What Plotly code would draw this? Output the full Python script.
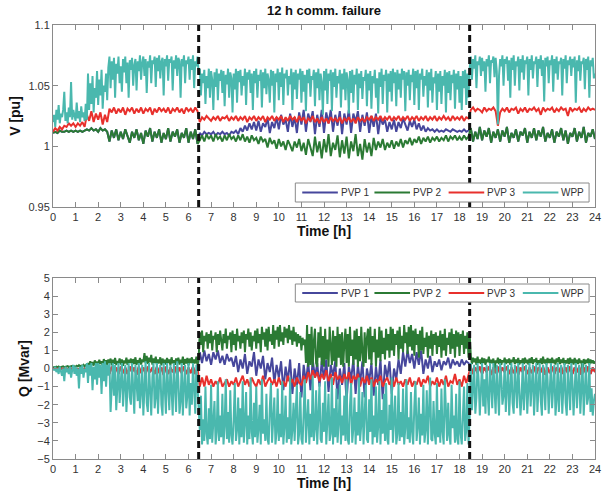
import numpy as np
import plotly.graph_objects as go

# Time axes: coarse 0.1 h grid (241 samples) and fine 0.05 h grid (481 samples)
time_h = np.round(np.arange(0, 24.001, 0.1), 3)
time_f = np.round(np.arange(0, 24.001, 0.05), 3)
fail_start, fail_end = 6.45, 18.45
x_ticks = list(range(0, 25))
v_ticks = [0.95, 1.0, 1.05, 1.1]
v_tick_labels = ["0.95", "1", "1.05", "1.1"]
q_ticks = list(range(-5, 6))
names = ["PVP 1", "PVP 2", "PVP 3", "WPP"]
colors = ["#46479c", "#2b7a34", "#e8302c", "#4ab8ae"]

# ---------------- Voltage [pu] ----------------
# WPP voltage, 0.05 h grid
wpp_v = [
 1.020,1.026,1.016,1.030,1.022,1.034,1.019,1.027,1.024,1.030,1.045,1.021,1.028,1.019,1.032,1.024,1.053,1.022,1.030,1.025,
 1.021,1.036,1.023,1.029,1.020,1.033,1.024,1.028,1.021,1.035,1.022,1.060,1.030,1.052,1.035,1.058,1.028,1.048,1.040,1.062,
 1.034,1.055,1.042,1.063,1.031,1.050,1.045,1.060,1.038,1.065,1.074,1.048,1.070,1.055,1.073,1.040,1.068,1.060,1.074,1.052,
 1.066,1.045,1.072,1.061,1.074,1.052,1.069,1.040,1.071,1.063,1.073,1.050,1.067,1.072,1.046,1.070,1.062,1.075,1.055,1.069,
 1.074,1.058,1.072,1.044,1.070,1.065,1.075,1.052,1.071,1.068,1.074,1.049,1.073,1.062,1.075,1.056,1.070,1.073,1.042,1.072,
 1.066,1.075,1.054,1.072,1.069,1.074,1.046,1.071,1.064,1.075,1.058,1.073,1.070,1.040,1.072,1.066,1.075,1.052,1.071,1.068,
 1.074,1.055,1.072,1.063,1.075,1.048,1.070,1.066,1.074,1.060,1.064,1.042,1.060,1.052,1.063,1.035,1.058,1.048,1.064,1.040,
 1.062,1.055,1.030,1.061,1.049,1.064,1.038,1.060,1.054,1.063,1.044,1.062,1.033,1.059,1.051,1.064,1.040,1.061,1.056,1.028,
 1.060,1.047,1.064,1.036,1.062,1.053,1.063,1.042,1.058,1.050,1.064,1.034,1.061,1.055,1.063,1.044,1.060,1.030,1.062,1.052,
 1.064,1.040,1.059,1.054,1.063,1.032,1.061,1.048,1.064,1.043,1.060,1.055,1.036,1.063,1.050,1.062,1.028,1.060,1.053,1.064,
 1.038,1.061,1.049,1.065,1.034,1.060,1.056,1.063,1.042,1.058,1.051,1.064,1.030,1.061,1.047,1.063,1.039,1.060,1.055,1.064,
 1.036,1.062,1.045,1.059,1.029,1.063,1.052,1.064,1.041,1.058,1.055,1.063,1.033,1.061,1.048,1.064,1.038,1.060,1.053,1.026,
 1.062,1.046,1.064,1.035,1.060,1.054,1.063,1.029,1.061,1.049,1.064,1.040,1.058,1.052,1.063,1.032,1.060,1.047,1.064,1.038,
 1.061,1.055,1.027,1.062,1.044,1.063,1.036,1.059,1.051,1.064,1.030,1.060,1.048,1.062,1.039,1.057,1.054,1.063,1.033,1.060,
 1.046,1.062,1.031,1.058,1.052,1.063,1.040,1.056,1.027,1.061,1.049,1.064,1.035,1.059,1.054,1.063,1.028,1.060,1.045,1.062,
 1.037,1.064,1.052,1.061,1.033,1.063,1.047,1.060,1.040,1.064,1.055,1.062,1.029,1.061,1.050,1.063,1.038,1.059,1.053,1.064,
 1.034,1.062,1.048,1.063,1.030,1.060,1.055,1.064,1.041,1.058,1.050,1.063,1.032,1.061,1.046,1.064,1.036,1.057,1.052,1.062,
 1.030,1.060,1.045,1.062,1.035,1.058,1.050,1.063,1.028,1.061,1.044,1.062,1.038,1.059,1.052,1.063,1.031,1.060,1.047,1.062,
 1.036,1.058,1.030,1.062,1.048,1.063,1.034,1.060,1.040,1.064,1.074,1.055,1.072,1.064,1.075,1.048,1.070,1.067,1.074,1.058,
 1.073,1.062,1.070,1.045,1.072,1.066,1.075,1.052,1.071,1.069,1.074,1.057,1.073,1.062,1.018,1.058,1.072,1.066,1.075,1.050,
 1.072,1.068,1.074,1.054,1.071,1.040,1.073,1.063,1.075,1.050,1.070,1.066,1.074,1.046,1.072,1.061,1.075,1.055,1.071,1.068,
 1.074,1.042,1.072,1.063,1.075,1.056,1.070,1.068,1.074,1.049,1.072,1.064,1.075,1.058,1.071,1.037,1.073,1.066,1.074,1.052,
 1.071,1.067,1.075,1.045,1.072,1.060,1.074,1.055,1.070,1.068,1.073,1.042,1.072,1.064,1.075,1.052,1.071,1.067,1.074,1.058,
 1.072,1.065,1.074,1.036,1.071,1.062,1.075,1.054,1.070,1.068,1.073,1.047,1.072,1.063,1.074,1.040,1.071,1.066,1.073,1.056,
 1.060]

# PVP 3 voltage, 0.1 h grid
pvp3_v = [
 1.012, 1.015, 1.013, 1.016, 1.014, 1.017, 1.016, 1.019, 1.017, 1.019,
 1.016, 1.019, 1.017, 1.020, 1.016, 1.026, 1.021, 1.029, 1.020, 1.027,
 1.022, 1.028, 1.018, 1.026, 1.020, 1.031, 1.028, 1.032, 1.027, 1.031,
 1.028, 1.032, 1.026, 1.031, 1.029, 1.032, 1.027, 1.031, 1.028, 1.032,
 1.027, 1.031, 1.029, 1.032, 1.026, 1.031, 1.028, 1.032, 1.029, 1.031,
 1.028, 1.032, 1.027, 1.031, 1.029, 1.032, 1.028, 1.031, 1.027, 1.032,
 1.029, 1.031, 1.028, 1.032, 1.029, 1.020, 1.024, 1.022, 1.025, 1.023,
 1.021, 1.024, 1.022, 1.025, 1.021, 1.024, 1.023, 1.025, 1.021, 1.024,
 1.022, 1.025, 1.021, 1.024, 1.022, 1.025, 1.020, 1.024, 1.022, 1.025,
 1.021, 1.024, 1.022, 1.025, 1.020, 1.024, 1.022, 1.025, 1.021, 1.024,
 1.022, 1.025, 1.020, 1.024, 1.021, 1.025, 1.022, 1.024, 1.020, 1.025,
 1.021, 1.024, 1.019, 1.023, 1.021, 1.025, 1.020, 1.023, 1.019, 1.024,
 1.020, 1.023, 1.019, 1.024, 1.021, 1.023, 1.020, 1.024, 1.019, 1.023,
 1.021, 1.024, 1.020, 1.023, 1.019, 1.024, 1.021, 1.023, 1.020, 1.024,
 1.022, 1.025, 1.021, 1.024, 1.022, 1.025, 1.021, 1.024, 1.022, 1.025,
 1.021, 1.024, 1.022, 1.025, 1.021, 1.024, 1.022, 1.025, 1.021, 1.024,
 1.022, 1.025, 1.021, 1.024, 1.022, 1.025, 1.021, 1.024, 1.022, 1.025,
 1.021, 1.024, 1.022, 1.025, 1.022, 1.024, 1.021, 1.025, 1.022, 1.024,
 1.022, 1.025, 1.021, 1.024, 1.023, 1.030, 1.032, 1.029, 1.031, 1.030,
 1.028, 1.032, 1.029, 1.031, 1.030, 1.032, 1.029, 1.017, 1.028, 1.031,
 1.029, 1.032, 1.028, 1.031, 1.030, 1.032, 1.027, 1.031, 1.029, 1.032,
 1.028, 1.031, 1.030, 1.032, 1.029, 1.031, 1.026, 1.032, 1.029, 1.031,
 1.030, 1.032, 1.028, 1.031, 1.029, 1.032, 1.030, 1.031, 1.025, 1.032,
 1.029, 1.031, 1.030, 1.032, 1.028, 1.031, 1.029, 1.032, 1.030, 1.031,
 1.030]

# PVP 2 voltage, 0.1 h grid
pvp2_v = [
 1.011, 1.012, 1.011, 1.013, 1.012, 1.012, 1.013, 1.012, 1.013, 1.012,
 1.013, 1.012, 1.013, 1.012, 1.013, 1.014, 1.013, 1.015, 1.013, 1.014,
 1.012, 1.015, 1.013, 1.014, 1.012, 1.004, 1.013, 1.007, 1.014, 1.005,
 1.012, 1.006, 1.014, 1.009, 1.003, 1.012, 1.007, 1.014, 1.005, 1.011,
 1.002, 1.013, 1.008, 1.015, 1.004, 1.012, 1.007, 1.014, 1.003, 1.011,
 1.006, 1.015, 1.004, 1.012, 1.008, 1.014, 1.003, 1.011, 1.007, 1.015,
 1.003, 1.012, 1.006, 1.014, 1.002, 1.005, 1.009, 1.004, 1.010, 1.006,
 1.009, 1.004, 1.010, 1.006, 1.008, 1.004, 1.009, 1.005, 1.010, 1.006,
 1.008, 1.004, 1.009, 1.005, 1.010, 1.004, 1.008, 1.003, 1.009, 1.005,
 1.007, 1.002, 1.008, 1.004, 1.006, 0.999, 1.007, 1.002, 1.005, 0.998,
 1.006, 1.000, 1.004, 0.997, 1.005, 1.001, 0.996, 1.004, 0.999, 1.006,
 0.996, 1.003, 0.993, 1.006, 0.998, 0.992, 1.008, 0.995, 1.004, 0.990,
 1.006, 0.995, 1.010, 0.992, 1.003, 0.997, 1.009, 0.991, 1.005, 0.994,
 1.008, 0.990, 1.004, 0.996, 1.010, 0.992, 1.002, 0.989, 1.006, 0.995,
 1.003, 0.992, 1.007, 0.997, 1.004, 0.999, 1.006, 0.997, 1.003, 0.999,
 1.005, 0.998, 1.004, 1.000, 1.006, 0.999, 1.005, 1.002, 1.007, 1.001,
 1.006, 1.003, 1.008, 1.002, 1.007, 1.004, 1.008, 1.003, 1.007, 1.005,
 1.008, 1.004, 1.007, 1.005, 1.009, 1.004, 1.008, 1.006, 1.009, 1.005,
 1.008, 1.005, 1.009, 1.006, 1.008, 1.015, 1.004, 1.012, 1.006, 1.016,
 1.005, 1.013, 1.008, 1.015, 1.003, 1.012, 1.007, 1.014, 1.004, 1.013,
 1.008, 1.016, 1.003, 1.011, 1.007, 1.014, 1.004, 1.012, 1.009, 1.015,
 1.003, 1.012, 1.007, 1.015, 1.005, 1.013, 1.008, 1.016, 1.004, 1.011,
 1.007, 1.014, 1.003, 1.012, 1.008, 1.015, 1.005, 1.013, 1.002, 1.011,
 1.008, 1.015, 1.004, 1.012, 1.007, 1.016, 1.003, 1.011, 1.008, 1.014,
 1.006]

# PVP 1 voltage during the failure window (6.5 h .. 18.4 h, 0.1 h grid);
# outside it follows PVP 2 (hidden beneath it in the reference)
pvp1_v_fail = [
 1.011, 1.009, 1.012, 1.010, 1.011,
 1.010, 1.012, 1.009, 1.011, 1.010, 1.012, 1.010, 1.011, 1.009, 1.012,
 1.011, 1.013, 1.010, 1.015, 1.012, 1.017, 1.013, 1.019, 1.014, 1.020,
 1.013, 1.021, 1.012, 1.019, 1.016, 1.023, 1.011, 1.020, 1.015, 1.024,
 1.014, 1.026, 1.018, 1.022, 1.012, 1.027, 1.016, 1.024, 1.011, 1.028,
 1.018, 1.030, 1.012, 1.027, 1.020, 1.029, 1.010, 1.026, 1.016, 1.030,
 1.011, 1.028, 1.019, 1.030, 1.012, 1.026, 1.017, 1.029, 1.010, 1.027,
 1.018, 1.030, 1.011, 1.027, 1.020, 1.029, 1.012, 1.026, 1.017, 1.028,
 1.011, 1.025, 1.016, 1.027, 1.010, 1.024, 1.018, 1.022, 1.012, 1.020,
 1.014, 1.022, 1.012, 1.020, 1.015, 1.023, 1.018, 1.013, 1.021, 1.016,
 1.022, 1.014, 1.019, 1.013, 1.017, 1.012, 1.015, 1.013, 1.014, 1.012,
 1.014, 1.012, 1.013, 1.012, 1.014, 1.013, 1.012, 1.014, 1.013, 1.012,
 1.013, 1.012, 1.014, 1.012, 1.013]

# ---------------- Reactive power [Mvar] ----------------
# WPP reactive power, 0.05 h grid
wpp_q = [
 0.0,-0.1,0.1,-0.2,0.0,-0.3,0.1,-0.1,-0.4,0.0,-0.7,0.1,-0.2,0.0,-0.3,0.1,-0.5,-0.1,0.2,-0.3,
 0.1,-0.4,0.0,-1.1,0.1,-0.3,0.2,-0.5,0.0,-0.2,0.3,-0.8,0.2,-0.4,0.3,-1.2,0.1,-0.6,0.3,-0.9,
 0.3,-0.5,0.2,-1.4,0.3,-0.7,0.4,-1.0,0.2,-0.4,0.3,-2.4,-0.6,0.3,-1.5,0.2,-2.3,-0.8,0.3,-1.9,
 -0.4,0.3,-2.1,-1.0,0.2,-2.4,-0.6,0.3,-1.6,-2.0,0.3,-1.1,-2.5,0.2,-0.7,-1.8,0.3,-2.2,-1.3,0.2,
 -2.6,-0.9,0.4,-1.9,-2.4,0.3,-1.2,-2.6,-0.5,0.3,-2.2,-1.6,0.3,-2.5,-0.8,0.2,-2.0,-2.6,0.3,-1.4,
 -2.5,0.3,-0.9,-2.3,0.2,-1.7,-2.6,0.3,-1.1,-2.4,0.4,-0.6,-2.5,-1.8,0.3,-2.6,-1.0,0.2,-2.2,-1.5,
 0.3,-2.6,-0.8,-2.0,0.3,-1.4,-2.5,0.2,-1.0,-2.3,-3.4,-1.5,-4.2,-2.8,-4.0,-1.0,-3.6,-4.2,-2.2,-3.9,
 -0.9,-4.1,-3.0,-1.8,-4.2,-3.5,-0.7,-4.0,-2.6,-3.8,-1.4,-4.2,-3.2,-0.6,-3.9,-2.4,-4.1,-1.2,-3.7,-4.2,
 -2.8,-0.8,-4.0,-3.4,-1.6,-4.2,-2.2,-3.8,-0.7,-4.1,-3.0,-1.3,-4.2,-2.6,-3.9,-0.5,-3.5,-4.2,-1.9,-3.8,
 -1.0,-4.1,-3.3,-2.0,-4.2,-0.6,-3.6,-2.8,-4.0,-1.4,-3.9,-4.2,-2.2,-0.8,-4.1,-3.0,-1.6,-4.2,-3.5,-1.1,
 -4.0,-2.5,-3.8,-0.7,-4.2,-3.2,-1.5,-4.1,-2.7,-3.9,-0.5,-4.2,-3.4,-1.9,-4.0,-2.3,-0.9,-4.2,-3.6,-1.3,
 -3.9,-4.2,-2.0,-0.6,-4.1,-3.1,-1.7,-4.2,-2.5,-3.8,-0.4,-4.0,-3.3,-1.2,-4.2,-2.7,-0.8,-3.9,-4.1,-1.9,
 -3.5,-0.7,-4.2,-2.9,-1.4,-4.0,-3.6,-0.5,-4.2,-2.2,-3.8,-1.1,-4.1,-3.0,-0.9,-4.2,-2.6,-3.7,-1.5,-4.0,
 -0.6,-3.9,-4.2,-2.1,-0.8,-4.1,-3.3,-1.6,-4.2,-2.4,-3.7,-0.5,-4.0,-3.1,-1.3,-4.2,-2.8,-0.9,-3.9,-4.1,
 -1.7,-3.5,-0.6,-4.2,-2.6,-3.8,-1.0,-4.1,-3.2,-0.7,-4.2,-2.3,-3.6,-1.4,-4.0,-0.8,-3.9,-4.2,-2.0,-3.4,
 -0.5,-4.1,-2.9,-1.5,-4.2,-3.6,-0.8,-4.0,-2.4,-3.8,-1.1,-4.2,-3.3,-0.6,-3.9,-2.7,-4.1,-1.3,-3.5,-4.2,
 -2.1,-0.7,-4.0,-3.2,-1.6,-4.2,-2.5,-3.7,-0.9,-4.1,-3.4,-1.2,-4.2,-2.8,-0.5,-3.9,-4.0,-1.8,-3.6,-4.2,
 -0.8,-3.8,-2.3,-4.1,-1.1,-3.5,-4.2,-0.6,-3.0,-4.0,-1.9,-3.7,-4.2,-0.9,-3.3,-2.6,-4.1,-1.4,-3.9,-4.2,
 -0.7,-3.6,-4.2,-2.2,-1.0,-4.0,-3.4,-0.8,-4.2,-2.7,0.3,-2.3,-1.0,0.2,-2.5,-1.6,0.3,-0.7,-2.6,-1.2,
 0.3,-2.1,-0.6,-2.5,0.2,-1.4,-2.6,0.3,-0.9,-2.2,0.3,-1.7,-2.5,0.2,-1.1,-2.6,0.3,-0.5,-2.0,-1.5,
 0.3,-2.4,-1.0,0.2,-2.6,-0.7,0.3,-1.9,-2.5,0.2,-1.3,-2.2,0.3,-0.8,-2.6,-1.6,0.3,-2.3,-0.6,0.2,
 -2.5,-1.2,0.3,-2.1,-0.9,0.2,-2.6,-1.5,0.3,-2.4,-0.7,0.3,-1.8,-2.6,0.2,-1.1,-2.3,0.3,-0.6,-2.5,
 -1.4,0.3,-2.2,-0.8,0.2,-2.6,-1.7,0.3,-2.4,-1.0,0.2,-2.5,-0.6,0.3,-1.9,-2.6,0.2,-1.2,-2.3,0.3,
 -0.7,-2.6,-1.5,0.3,-2.2,-0.9,0.2,-2.5,-1.3,0.3,-2.6,-0.8,0.2,-2.0,-1.6,0.3,-2.4,-1.1,-2.6,-1.8,
 -1.4]

# PVP 2 reactive power, 0.05 h grid
pvp2_q = [
 0.05,0.08,0.06,0.10,0.07,0.11,0.06,0.09,0.08,0.12,0.07,0.10,0.09,0.13,0.08,0.11,0.10,0.14,0.09,0.12,
 0.10,0.15,0.11,0.18,0.12,0.16,0.13,0.20,0.12,0.18,0.15,0.30,0.18,0.40,0.20,0.35,0.16,0.45,0.22,0.38,
 0.18,0.48,0.25,0.40,0.15,0.52,0.28,0.45,0.20,0.50,0.30,0.55,0.18,0.48,0.26,0.58,0.20,0.42,0.30,0.55,
 0.22,0.50,0.15,0.45,0.28,0.60,0.20,0.48,0.32,0.55,0.18,0.52,0.25,0.62,0.20,0.45,0.30,0.58,0.22,0.50,
 0.35,0.85,0.30,0.70,0.25,0.60,0.35,0.75,0.22,0.55,0.30,0.65,0.20,0.50,0.28,0.62,0.18,0.55,0.30,0.48,
 0.22,0.58,0.30,0.50,0.18,0.62,0.28,0.45,0.20,0.55,0.32,0.60,0.22,0.48,0.30,0.65,0.20,0.52,0.28,0.58,
 0.18,0.55,0.30,0.62,0.22,0.50,0.28,0.65,0.20,0.58,2.0,1.3,2.1,0.9,1.8,1.5,2.0,1.1,1.9,1.4,
 2.1,1.0,1.8,1.6,2.0,0.9,1.9,1.3,2.1,1.5,1.0,1.9,1.4,2.2,1.1,1.8,1.6,2.0,0.9,2.1,
 1.3,1.9,1.0,2.2,1.5,1.8,1.1,2.0,1.4,2.1,0.9,1.9,1.6,2.2,1.2,2.0,1.0,1.8,1.5,2.1,
 1.1,2.2,1.4,1.9,0.9,2.3,1.6,2.0,1.2,2.2,1.0,2.3,1.5,1.9,1.3,2.4,1.1,2.1,1.6,2.3,
 1.2,2.4,1.5,2.0,1.3,2.3,1.7,2.2,1.4,2.4,1.6,2.1,1.3,2.3,1.5,2.0,1.2,1.9,1.4,1.8,
 1.0,1.7,1.3,1.6,0.3,2.4,0.1,1.9,0.2,2.3,0.1,1.5,2.2,0.3,0.1,2.0,0.6,2.3,0.2,1.8,
 0.1,2.2,0.5,1.6,0.1,2.3,0.8,0.2,2.1,0.4,1.8,0.1,2.3,0.6,1.9,0.2,2.0,0.1,1.4,2.2,
 0.3,1.9,0.1,2.3,0.7,1.6,0.2,2.1,0.5,2.2,0.1,1.8,0.4,2.3,0.9,0.1,2.0,0.3,1.7,2.2,
 0.5,2.3,0.2,1.8,0.9,2.2,0.1,1.6,0.6,2.3,0.4,2.1,0.8,1.7,0.5,2.2,1.0,1.9,0.6,2.3,
 1.0,2.2,0.7,1.9,1.3,2.1,0.5,2.3,1.1,1.8,0.9,2.4,1.4,2.0,0.8,2.3,1.2,2.4,1.0,2.1,
 0.7,2.2,1.3,1.9,0.6,2.1,1.0,2.3,0.8,1.7,1.2,2.0,0.6,1.8,1.1,2.1,0.7,1.9,1.3,2.0,
 0.8,1.8,1.2,2.1,0.6,1.9,1.0,2.2,0.7,1.7,1.3,2.0,0.8,2.2,1.1,1.9,0.6,2.1,1.2,2.0,
 0.7,1.9,1.3,2.1,0.8,1.8,1.1,2.0,0.6,1.9,0.70,0.25,0.60,0.35,0.55,0.20,0.65,0.30,0.50,0.25,
 0.60,0.30,0.55,0.20,0.50,0.35,0.65,0.25,0.48,0.30,0.55,-0.2,0.45,0.30,0.60,0.25,0.52,0.20,0.45,0.35,
 0.60,0.25,0.50,0.30,0.55,0.20,0.48,0.35,0.62,0.25,0.50,0.30,0.58,0.22,0.45,0.30,0.55,0.25,0.60,0.30,
 0.48,0.22,0.55,0.30,0.62,0.25,0.50,0.35,0.58,0.20,0.45,0.30,0.55,0.25,0.65,0.28,0.50,0.22,0.58,0.30,
 0.52,0.25,0.60,0.30,0.48,0.22,0.55,0.35,0.62,0.25,0.50,0.30,0.58,0.20,0.45,0.28,0.55,0.25,0.60,0.30,
 0.50,0.22,0.58,0.30,0.48,0.25,0.55,0.30,0.45,-0.3,0.52,0.25,0.48,0.30,0.55,0.22,0.50,0.30,0.45,0.28,
 0.40]

# PVP 3 reactive power, 0.1 h grid
pvp3_q = [
 0.0, -0.05, 0.0, -0.05, 0.0, -0.05, 0.0, -0.05, 0.0, -0.05,
 0.0, -0.05, 0.0, -0.05, 0.0, -0.05, 0.0, -0.1, 0.0, -0.05,
 0.05, -0.2, 0.05, -0.15, 0.05, -0.3, 0.1, -0.2, 0.05, -0.3,
 0.1, -0.25, 0.05, -0.3, 0.1, -0.2, 0.05, -0.35, 0.1, -0.25,
 0.05, -0.3, 0.1, -0.2, 0.05, -0.3, 0.1, -0.25, 0.05, -0.35,
 0.1, -0.3, 0.05, -0.2, 0.1, -0.35, 0.05, -0.25, 0.1, -0.3,
 0.05, -0.25, 0.1, -0.3, 0.05, -1.0, -0.5, -1.0, -0.4, -0.9,
 -0.6, -1.0, -0.7, -0.9, -0.5, -1.0, -0.8, -0.6, -1.0, -0.7,
 -0.9, -0.5, -1.0, -0.7, -0.4, -0.9, -0.6, -1.0, -0.5, -0.8,
 -1.0, -0.6, -0.9, -0.4, -1.0, -0.7, -0.5, -0.9, -0.6, -1.0,
 -0.5, -0.9, -0.7, -1.0, -0.4, -0.8, -0.6, -1.0, -0.5, -0.8,
 -0.9, -0.4, -0.8, -0.2, -0.6, -0.1, -0.5, -0.2, -0.7, -0.3,
 -0.6, -0.1, -0.7, -0.3, -0.9, -0.2, -0.6, -0.4, -0.8, -0.3,
 -0.7, -0.2, -0.9, -0.4, -0.6, -0.3, -1.0, -0.5, -0.8, -0.4,
 -0.9, -0.5, -1.0, -0.6, -0.8, -0.4, -1.0, -0.7, -0.5, -0.9,
 -0.6, -1.0, -0.5, -0.9, -0.7, -1.0, -0.6, -0.9, -0.5, -1.0,
 -0.7, -0.9, -0.5, -1.0, -0.6, -0.8, -0.4, -1.0, -0.7, -0.9,
 -0.5, -1.0, -0.6, -0.9, -0.4, -1.0, -0.7, -0.8, -0.3, -0.9,
 -0.6, -1.0, -0.4, -0.8, -0.3, 0.1, -0.3, 0.05, -0.25, 0.1,
 -0.3, 0.05, -0.2, 0.1, -0.35, 0.05, -0.25, 0.1, -0.3, 0.05,
 -0.2, 0.1, -0.3, 0.05, -0.25, 0.1, -0.35, 0.05, -0.2, 0.1,
 -0.3, 0.05, -0.25, 0.1, -0.3, 0.05, -0.2, 0.1, -0.35, 0.05,
 -0.25, 0.1, -0.3, 0.05, -0.2, 0.1, -0.3, 0.05, -0.25, 0.1,
 -0.3, 0.05, -0.2, 0.1, -0.35, 0.05, -0.25, 0.1, -0.3, 0.05,
 -0.2]

# PVP 1 reactive power during the failure window (6.5 h .. 18.4 h, 0.1 h grid);
# outside it follows PVP 3 (hidden beneath it in the reference)
pvp1_q_fail = [
 0.9, 0.3, 1.0, 0.4, 0.8,
 0.2, 0.9, 0.5, 1.0, 0.3, 0.7, 0.2, 0.8, 0.4, 0.6,
 0.1, 0.7, -0.2, 0.5, 0.0, 0.8, -0.3, 0.4, 0.1, 0.9,
 -0.4, 0.5, 0.0, 0.7, -0.6, 0.3, -0.2, 0.6, -0.8, 0.2,
 -0.5, 0.4, -1.2, 0.1, -0.7, 0.5, -1.4, 0.0, -0.9, 0.3,
 -1.6, 0.2, -0.8, 0.4, -1.2, 0.5, -0.5, 0.3, -1.0, 0.4,
 -0.6, 0.5, -1.3, 0.2, -0.4, 0.4, -1.7, 0.0, -0.9, 0.3,
 -1.8, 0.1, -0.6, 0.5, -1.4, 0.2, -0.8, 0.4, -1.6, 0.0,
 -0.7, 0.3, -1.5, 0.1, -0.9, 0.5, -1.7, 0.2, -0.5, 0.4,
 -1.4, 0.0, -0.6, 0.5, -0.3, 0.9, 0.1, 1.0, 0.3, 0.8,
 0.0, 0.9, 0.2, 1.0, -0.3, 0.5, 0.0, 0.7, -0.2, 0.4,
 0.1, 0.5, -0.1, 0.4, 0.2, 0.6, 0.0, 0.5, 0.2, 0.4,
 0.1, 0.5, 0.2, 0.4, 0.3]

i0, i1 = 65, 185  # indices of 6.5 h and 18.5 h on the 0.1 h grid
pvp1_v = pvp2_v[:i0] + pvp1_v_fail + pvp2_v[i1:]
pvp1_q = pvp3_q[:i0] + pvp1_q_fail + pvp3_q[i1:]

v_series = [(time_h, pvp1_v), (time_h, pvp2_v), (time_h, pvp3_v), (time_f, wpp_v)]
q_series = [(time_h, pvp1_q), (time_f, pvp2_q), (time_h, pvp3_q), (time_f, wpp_q)]

FONT = "Liberation Sans, Arial, sans-serif"
LW = 2.0

fig = go.Figure()
for name, col, (tx, ys) in zip(names, colors, v_series):
    fig.add_trace(go.Scatter(x=tx, y=ys, mode="lines", name=name,
                             line=dict(color=col, width=LW), showlegend=False,
                             xaxis="x", yaxis="y"))
for name, col, (tx, ys) in zip(names, colors, q_series):
    fig.add_trace(go.Scatter(x=tx, y=ys, mode="lines", name=name,
                             line=dict(color=col, width=LW), showlegend=False,
                             xaxis="x2", yaxis="y2"))

tickfont = dict(family=FONT, size=11, color="#333333")
titlefont = dict(family=FONT, size=14, color="#111111")
axis_common = dict(showgrid=False, zeroline=False, showline=True, linecolor="#8a8a8a",
                   linewidth=1, mirror="ticks", ticks="inside", ticklen=5,
                   tickcolor="#8a8a8a", tickfont=tickfont)

# Page geometry (page body margin removed in post_script)
W, H = 608, 498
ML, MR, MT, MB = 53, 7, 25, 39
PW, PH = W - ML - MR, H - MT - MB


def px2x(px):
    return (px - ML) / PW


def px2y(py):
    return (H - MB - py) / PH


shapes = []
annotations = []
for ax in ["y", "y2"]:
    for xv in [fail_start, fail_end]:
        shapes.append(dict(type="line", xref="x" if ax == "y" else "x2",
                           yref=f"{ax} domain", x0=xv, x1=xv, y0=0, y1=1,
                           line=dict(color="#111111", width=3, dash="7px,4px")))

# Hand-drawn legends (compact MATLAB-style boxes)
leg_line_x = [(305, 341), (378, 414), (453, 489), (528, 564)]
leg_text_x = [344, 417, 492, 567]
for (top, bot) in [(183, 202), (284, 302)]:
    shapes.append(dict(type="rect", xref="paper", yref="paper",
                       x0=px2x(298), x1=px2x(595), y0=px2y(bot), y1=px2y(top),
                       fillcolor="white", line=dict(color="#8a8a8a", width=1), layer="above"))
    yc = px2y((top + bot) / 2)
    for (a, b), tx, nm, col in zip(leg_line_x, leg_text_x, names, colors):
        shapes.append(dict(type="line", xref="paper", yref="paper",
                           x0=px2x(a), x1=px2x(b), y0=yc, y1=yc,
                           line=dict(color=col, width=2), layer="above"))
        annotations.append(dict(text=nm, xref="paper", yref="paper", x=px2x(tx), y=yc,
                                xanchor="left", yanchor="middle", showarrow=False,
                                xshift=-2, font=dict(family=FONT, size=10, color="#333333")))

fig.update_layout(
    width=W, height=H,
    margin=dict(l=ML, r=MR, t=MT, b=MB),
    paper_bgcolor="white", plot_bgcolor="white",
    showlegend=False,
    title=dict(text="<b>12 h comm. failure</b>", x=0.5, xanchor="center",
               xref="paper", y=(H - 10) / H, yanchor="middle",
               font=dict(family=FONT, size=13, color="#111111")),
    xaxis=dict(domain=[0, 1], range=[0, 24], tickvals=x_ticks, anchor="y",
               title=dict(text="<b>Time [h]</b>", font=titlefont, standoff=2),
               **axis_common),
    yaxis=dict(domain=[px2y(207), 1], range=[0.95, 1.1], tickvals=v_ticks,
               ticktext=v_tick_labels, anchor="x",
               title=dict(text="<b>V [pu]</b>", font=titlefont, standoff=4),
               **axis_common),
    xaxis2=dict(domain=[0, 1], range=[0, 24], tickvals=x_ticks, anchor="y2",
                title=dict(text="<b>Time [h]</b>", font=titlefont, standoff=2),
                **axis_common),
    yaxis2=dict(domain=[0, px2y(278)], range=[-5, 5], tickvals=q_ticks, anchor="x2",
                title=dict(text="<b>Q [Mvar]</b>", font=titlefont, standoff=4),
                **axis_common),
    shapes=shapes,
    annotations=annotations,
)

fig.write_html("out.html", config={"displayModeBar": False},
               post_script="document.body.style.margin='0px';document.body.style.overflow='hidden';")
